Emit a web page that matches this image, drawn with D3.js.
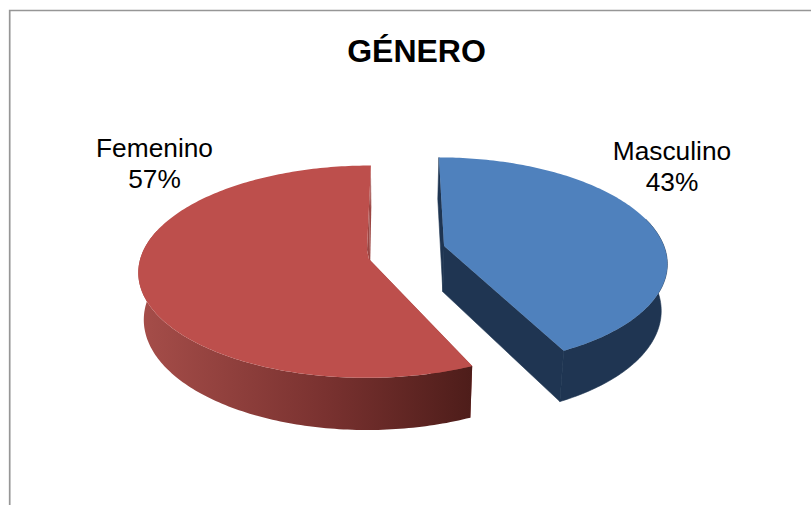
<!DOCTYPE html>
<html>
<head>
<meta charset="utf-8">
<style>
  html, body { margin: 0; padding: 0; background: #fff; }
  svg { display: block; }
  text { font-family: "Liberation Sans", Arial, sans-serif; fill: #000; }
</style>
<script src="https://cdn.jsdelivr.net/npm/d3@7"></script>
</head>
<body>
<svg id="chart" width="811" height="505"></svg>
<script>
// Chart content
const chartTitle = "GÉNERO";
const categories = ["Masculino", "Femenino"];
const shares = [43, 57];

const topColors = ["#4F81BD", "#BD4F4C"];
const blueWall = "#1F3552";

// Perspective model of the pie plane: lines converge on a vanishing point
const vanish = { x: 389, y: -698 };
const persp = { g: 8750, c: 9.2105, fx: 4.2 };
const depth = { xScale: 0.978, yScale: 1.0485 };

// Exploded slice tips in plane units
const apex = [{ x: 0.245, y: -0.0586 }, { x: -0.088, y: 0.0673 }];
// Rim placement per slice: vertical drop of the rim centre, width, and how the
// angular sweep is eased to follow the lens of the 3D view
const rimDrop = [0.04, 0.01];
const rimWidth = [0.979, 1.004];
const sweepEase = [t => t * 0.984,
                   t => 2 * Math.PI - (2 * Math.PI - t) * 0.9966];
// The red top face pulls back slightly from its upright cut, showing the wall
const faceInset = [[], [{ x: -0.0975, y: -0.02 }]];

const project = (X, Y) => {
  const w = persp.g / (persp.c - Y);
  return [vanish.x + X * w / persp.fx, vanish.y + w];
};
const dropToBase = ([sx, sy]) => [
  vanish.x + (sx - vanish.x) * depth.xScale,
  vanish.y + (sy - vanish.y) * depth.yScale
];

const svg = d3.select("#chart");

// Frame, open on the right and bottom where it runs off the page
svg.append("path")
  .attr("d", "M9.7,505V10.5H811")
  .attr("fill", "none")
  .attr("stroke", "#969696")
  .attr("stroke-width", 1.7);

// Side wall shading for the red slice
const defs = svg.append("defs");
const grad = defs.append("linearGradient")
  .attr("id", "redWall")
  .attr("gradientUnits", "userSpaceOnUse")
  .attr("x1", 143).attr("x2", 471).attr("y1", 0).attr("y2", 0);
grad.append("stop").attr("offset", 0).attr("stop-color", "#A54D49");
grad.append("stop").attr("offset", 0.55).attr("stop-color", "#7A3230");
grad.append("stop").attr("offset", 1).attr("stop-color", "#4E1D1A");

const pie = d3.pie().sort(null).value(d => d);
const arcs = pie(shares);
const line = d3.line();
const rimStep = Math.PI / 180;

// Draw the far slice first so nearer faces cover it
[1, 0].forEach(i => {
  const a = arcs[i], o = apex[i];
  const angles = d3.range(a.startAngle, a.endAngle, rimStep).concat(a.endAngle);
  const rim = angles.map(sweepEase[i]).map(t => project(
    o.x + rimWidth[i] * Math.sin(t),
    o.y + rimDrop[i] - Math.cos(t)
  ));
  // Only the part of the outer wall that faces the viewer is drawn
  const frontRim = rim.filter((_, j) => Math.cos(angles[j]) < 0.3);
  const centre = project(o.x, o.y);
  const inset = faceInset[i].map(p => project(p.x, p.y));
  const wallFill = i === 1 ? "url(#redWall)" : blueWall;
  const cutFill = i === 1 ? "#9B4542" : blueWall;
  // A hairline of the wall colour closes seams between the blue wall panels
  const seam = i === 0 ? blueWall : "none";
  const g = svg.append("g").attr("class", "slice");

  const cutWall = p => g.append("path")
    .attr("d", line([centre, p, dropToBase(p), dropToBase(centre)]) + "Z")
    .attr("fill", cutFill)
    .attr("stroke", seam)
    .attr("stroke-width", 0.6);

  cutWall(rim[0]);

  // Curved outer wall
  g.append("path")
    .attr("d", line(frontRim.concat(frontRim.map(dropToBase).reverse())) + "Z")
    .attr("fill", wallFill)
    .attr("stroke", seam)
    .attr("stroke-width", 0.6);

  cutWall(rim[rim.length - 1]);

  // Sliver of upright wall beside the inset top face
  if (inset.length) {
    g.append("path")
      .attr("d", line([rim[rim.length - 1], centre].concat(inset)) + "Z")
      .attr("fill", cutFill);
  }

  // Top face
  g.append("path")
    .attr("d", line([centre].concat(rim, inset)) + "Z")
    .attr("fill", topColors[i]);
});

// Title
svg.append("text")
  .attr("x", 416.5).attr("y", 62)
  .attr("text-anchor", "middle")
  .attr("font-size", 32)
  .attr("font-weight", "bold")
  .text(chartTitle);

// Slice labels
const labelAnchor = [{ x: 672, y: 160 }, { x: 154.5, y: 157 }];
categories.forEach((name, i) => {
  const t = svg.append("text")
    .attr("text-anchor", "middle")
    .attr("font-size", 26.3);
  t.append("tspan").attr("x", labelAnchor[i].x).attr("y", labelAnchor[i].y).text(name);
  t.append("tspan").attr("x", labelAnchor[i].x).attr("y", labelAnchor[i].y + 30.5).text(shares[i] + "%");
});
</script>
</body>
</html>
